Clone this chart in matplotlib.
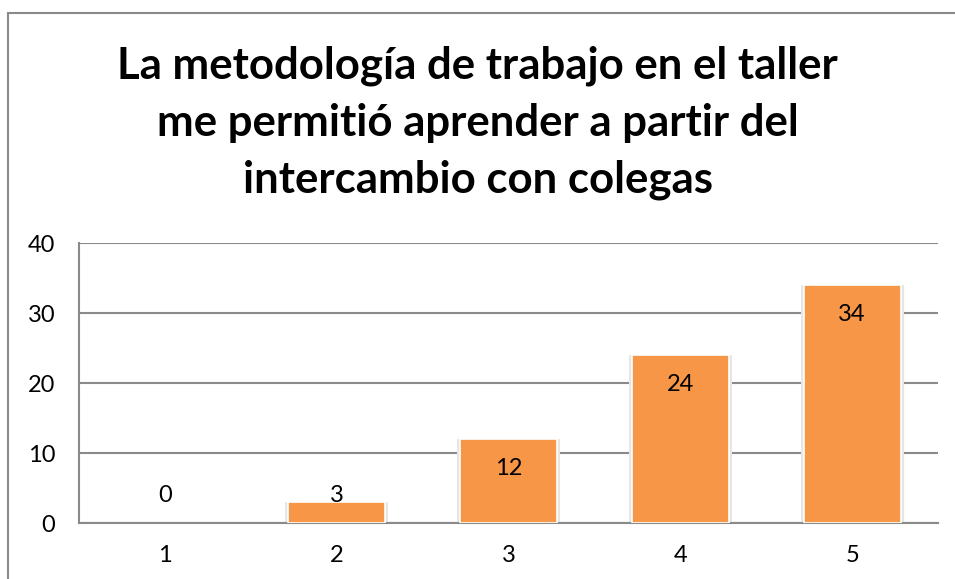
import matplotlib
matplotlib.use("Agg")
import matplotlib.pyplot as plt
from matplotlib.patches import Rectangle

# chart data
categories = ["1", "2", "3", "4", "5"]
values = [0, 3, 12, 24, 34]
title = "La metodología de trabajo en el taller\nme permitió aprender a partir del\nintercambio con colegas"
yticks = [0, 10, 20, 30, 40]

plt.rcParams['font.family'] = ['Lato', 'DejaVu Sans']

fig = plt.figure(figsize=(9.55, 5.79), dpi=100)
ax = fig.add_axes([79 / 955, 1 - 523 / 579, (938 - 79) / 955, (523 - 243) / 579])

# chart border (Excel style, cut off at right/bottom)
border = Rectangle((8 / 955, -0.1), 1.2, 1 - 13 / 579 + 0.1, transform=fig.transFigure,
                   fill=False, edgecolor="#8a8a8a", linewidth=1.5, zorder=0)
fig.patches.append(border)

x = list(range(len(categories)))
# soft shadow behind bars (skip empty bars)
shadow_x = [xi for xi, v in zip(x, values) if v > 0]
shadow_v = [v for v in values if v > 0]
ax.bar(shadow_x, shadow_v, width=0.6, color="#e6e6e6", zorder=2)
ax.bar(x, values, width=0.565, color="#F79646", edgecolor="white",
       linewidth=[1.2 if v > 0 else 0 for v in values], zorder=3)

for xi, v in zip(x, values):
    ypos = max(v - 4.2, 4.0)
    ax.text(xi, ypos, str(v), ha="center", va="center", fontsize=17, color="black", zorder=4)

ax.set_xlim(-0.5, len(categories) - 0.5)
ax.set_ylim(0, 40)
ax.set_yticks(yticks)
ax.set_xticks(x)
ax.set_xticklabels(categories)
ax.tick_params(axis="both", length=0, labelsize=17)
ax.tick_params(axis="y", pad=17)
ax.tick_params(axis="x", pad=16)
ax.yaxis.grid(True, color="#8a8a8a", linewidth=1.5, zorder=1)
ax.set_axisbelow(True)
for s in ["top", "right"]:
    ax.spines[s].set_visible(False)
ax.spines["left"].set_color("#8a8a8a")
ax.spines["left"].set_linewidth(1.5)
ax.spines["bottom"].set_color("#8a8a8a")
ax.spines["bottom"].set_linewidth(1.5)

fig.text(0.5, 1 - 123 / 579, title, ha="center", va="center", fontsize=31.5,
         fontweight="bold", linespacing=1.5)

fig.savefig("out.png", dpi=100)
